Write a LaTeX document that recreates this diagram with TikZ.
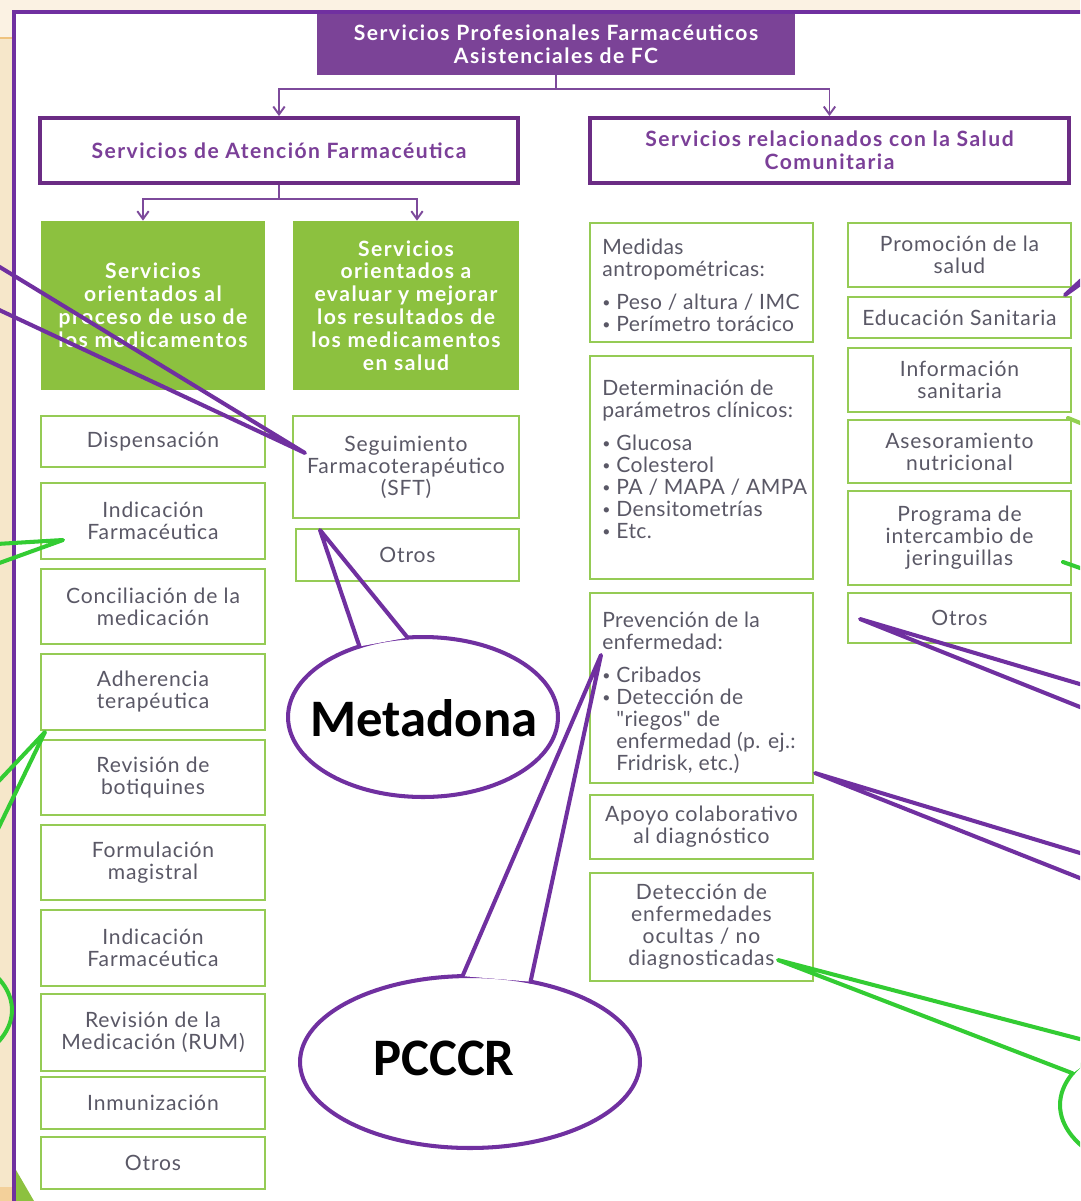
\documentclass[tikz,border=0pt]{standalone}
\usepackage{fontspec}
\setmainfont{Lato}[LetterSpace=4, Ligatures=TeXOff]
\newfontfamily\calloutfont{Carlito}
\usetikzlibrary{arrows.meta,calc,positioning,shapes.geometric}

\definecolor{creamlight}{HTML}{FBF2E3}
\definecolor{creamdark}{HTML}{F6E7CA}
\definecolor{creamband}{HTML}{F3D09A}
\definecolor{goldline}{HTML}{EFC37E}
\definecolor{framepurple}{HTML}{7030A0}
\definecolor{titlepurple}{HTML}{7B4397}
\definecolor{headpurple}{HTML}{6B2C84}
\definecolor{headtext}{HTML}{7B3F98}
\definecolor{treepurple}{HTML}{7D4A9B}
\definecolor{boxgreen}{HTML}{8CC13F}
\definecolor{itemgreen}{HTML}{95CB55}
\definecolor{itemgrey}{HTML}{5A5866}
\definecolor{calloutpurple}{HTML}{7030A0}
\definecolor{calloutgreen}{HTML}{33CC33}
\definecolor{calloutlime}{HTML}{92D050}

\newcommand\itembullet{\makebox[8pt][l]{\raisebox{1.2pt}{\fontsize{8}{8}\selectfont\textbullet}}}
\newcommand\bulletgap{\hspace*{8pt}}

\begin{document}
\begin{tikzpicture}[x=0.02cm, y=-0.02cm,
  base/.style={inner sep=0pt, align=center},
  boldtext/.style={font=\bfseries\addfontfeature{LetterSpace=7}\fontsize{12}{13}\selectfont},
  topbox/.style={base, boldtext, fill=titlepurple, text=white},
  headbox/.style={base, boldtext, draw=headpurple, line width=2.2pt, fill=white, text=headtext,
    minimum height=1.3cm},
  greenbox/.style={base, boldtext, fill=boxgreen, text=white, minimum height=3.38cm},
  item/.style={base, draw=itemgreen, line width=1.3pt, fill=white, text=itemgrey,
    font=\fontsize{12}{12.5}\selectfont, minimum width=4.46cm},
  listtext/.style={inner sep=0pt, anchor=north west, align=left, text=itemgrey,
    font=\addfontfeature{LetterSpace=2}\fontsize{12}{12.5}\selectfont},
  tree/.style={draw=treepurple, line width=1.1pt, -{Straight Barb[length=4.5pt, width=6.5pt]}},
  purpleline/.style={draw=calloutpurple, line width=2.3pt, line cap=round, line join=round},
  greenline/.style={purpleline, draw=calloutgreen},
  limeline/.style={purpleline, draw=calloutlime},
  bubble/.style={ellipse, draw=calloutpurple, line width=2.3pt, fill=white, inner sep=0pt,
    outer sep=0pt},
  greenbubble/.style={bubble, draw=calloutgreen},
  bubbletext/.style={inner sep=0pt, font=\calloutfont\bfseries\fontsize{30}{30}\selectfont}
]
\useasboundingbox (0,0) rectangle (1080,1201);
\clip (0,0) rectangle (1080,1201);

% slide background
\fill[creamlight] (0,0) rectangle (1080,1201);
\fill[creamdark] (0,38) rectangle (14,1201);
\fill[creamband] (0,1187) rectangle (14,1201);
\draw[goldline, line width=1.2pt] (0,38) -- (14,38);
\fill[white] (14,12) rectangle (1100,1230);
\fill[boxgreen] (16,1170) -- (34,1201) -- (16,1201) -- cycle;
\draw[framepurple, line width=2.3pt] (14,1230) -- (14,12) -- (1100,12);

% top levels
\node[topbox, minimum width=9.56cm, minimum height=1.22cm] (title) at (556,44.5)
  {Servicios Profesionales Farmacéuticos\\Asistenciales de FC};
\node[headbox, minimum width=9.56cm] (atencion) at (279,150.5)
  {Servicios de Atención Farmacéutica};
\node[headbox, minimum width=9.58cm] (comunitaria) at (829.5,150.5)
  {Servicios relacionados con la Salud\\Comunitaria};
\node[greenbox, minimum width=4.48cm] (proceso) at (153,305.5)
  {Servicios\\orientados al\\proceso de uso de\\los medicamentos};
\node[greenbox, minimum width=4.52cm] (resultados) at (406,305.5)
  {Servicios\\orientados a\\evaluar y mejorar\\los resultados de\\los medicamentos\\en salud};

\draw[tree] (title.south) -- ++(0,14) -| (atencion.north);
\draw[tree] (title.south) -- ++(0,14) -| (comunitaria.north);
\draw[tree] (atencion.south) -- ++(0,14) -| ([xshift=-0.2cm]proceso.north);
\draw[tree] (atencion.south) -- ++(0,14) -| ([xshift=0.22cm]resultados.north);

% proceso de uso
\node[item, minimum width=4.48cm, minimum height=1.02cm] (dispensacion) at (153,441.5) {Dispensación};
\node[item, minimum width=4.48cm, minimum height=1.52cm] (indicacion) at (153,521) {Indicación\\Farmacéutica};
\node[item, minimum width=4.48cm, minimum height=1.5cm] (conciliacion) at (153,606.5) {Conciliación de la\\medicación};
\node[item, minimum width=4.48cm, minimum height=1.52cm] (adherencia) at (153,692) {Adherencia\\terapéutica};
\node[item, minimum width=4.48cm, minimum height=1.5cm] (botiquines) at (153,777.5) {Revisión de\\botiquines};
\node[item, minimum width=4.48cm, minimum height=1.5cm] (formulacion) at (153,862.5) {Formulación\\magistral};
\node[item, minimum width=4.48cm, minimum height=1.52cm] (indicacion2) at (153,948) {Indicación\\Farmacéutica};
\node[item, minimum width=4.48cm, minimum height=1.54cm] (rum) at (153,1032.5) {Revisión de la\\Medicación (RUM)};
\node[item, minimum width=4.48cm, minimum height=1.04cm] (inmunizacion) at (153,1103) {Inmunización};
\node[item, minimum width=4.48cm, minimum height=1.04cm] (otros1) at (153,1163) {Otros};

% resultados
\node[item, minimum width=4.52cm, minimum height=2.04cm] (sft) at (406,467) {Seguimiento\\Farmacoterapéutico\\(SFT)};
\node[item, minimum width=4.46cm, minimum height=1.04cm] (otros2) at (407.5,555) {Otros};

% salud comunitaria
\node[item, minimum height=2.38cm] (medidas) at (701.5,282.5) {};
\node[listtext] (medidas-txt) at (602,239)
  {Medidas\\antropométricas:\\[6pt]\itembullet Peso / altura / IMC\\\itembullet Perímetro torácico};
\node[item, minimum height=4.46cm] (parametros) at (701.5,467.5) {};
\node[listtext] (parametros-txt) at (602,380)
  {Determinación de\\parámetros clínicos:\\[6pt]\itembullet Glucosa\\\itembullet Colesterol\\
   \itembullet PA / MAPA / AMPA\\\itembullet Densitometrías\\\itembullet Etc.};
\node[item, minimum height=3.8cm] (prevencion) at (701.5,688) {};
\node[listtext] (prevencion-txt) at (602,612)
  {Prevención de la\\enfermedad:\\[6pt]\itembullet Cribados\\\itembullet Detección de\\
   \bulletgap"riegos" de\\\bulletgap enfermedad (p. ej.:\\
   \bulletgap Fridrisk, etc.)};
\node[item, minimum height=1.28cm] (apoyo) at (701.5,827) {Apoyo colaborativo\\al diagnóstico};
\node[item, minimum height=2.16cm] (ocultas) at (701.5,927) {Detección de\\enfermedades\\ocultas / no\\diagnosticadas};

\node[item, minimum height=1.28cm] (promocion) at (959.5,255) {Promoción de la\\salud};
\node[item, minimum height=0.82cm] (educacion) at (959.5,317.5) {Educación Sanitaria};
\node[item, minimum height=1.28cm] (informacion) at (959.5,380) {Información\\sanitaria};
\node[item, minimum height=1.26cm] (asesoramiento) at (959.5,451.5) {Asesoramiento\\nutricional};
\node[item, minimum height=1.88cm] (jeringuillas) at (959.5,538) {Programa de\\intercambio de\\jeringuillas};
\node[item, minimum height=1.0cm] (otros3) at (959.5,618) {Otros};

% callouts
\node[bubble, minimum width=5.4cm, minimum height=3.2cm] (metadona) at (423,717) {};
\node[bubbletext] (metadona-txt) at (424,718) {Metadona};
\coordinate (metadona-tip) at (320,530);
\fill[white] (metadona.132) -- ($(metadona.132)!0.12!(metadona-tip)$)
  -- ($(metadona.101)!0.12!(metadona-tip)$) -- (metadona.101) -- cycle;
\draw[purpleline] (metadona.132) -- (metadona-tip) -- (metadona.101);

\node[bubble, minimum width=6.8cm, minimum height=3.44cm] (pcccr) at (470,1062) {};
\node[bubbletext] (pcccr-txt) at (444,1058) {PCCCR};
\coordinate (pcccr-tip) at (601,655);
\fill[white] (pcccr.95) -- ($(pcccr.95)!0.06!(pcccr-tip)$)
  -- ($(pcccr.53)!0.06!(pcccr-tip)$) -- (pcccr.53) -- cycle;
\draw[purpleline] (pcccr.95) -- (pcccr-tip) -- (pcccr.53);

\coordinate (sft-tip) at (305,453);
\coordinate (sft-end1) at (-20,255);
\coordinate (sft-end2) at (-20,301);
\draw[purpleline] (sft-end1) -- (sft-tip) -- (sft-end2);

\coordinate (indicacion-tip) at (63,540);
\coordinate (indicacion-end1) at (-20,545);
\coordinate (indicacion-end2) at (-20,570);
\draw[greenline] (indicacion-end1) -- (indicacion-tip) -- (indicacion-end2);

\coordinate (adherencia-tip) at (45,732);
\coordinate (adherencia-end1) at (-20,801);
\coordinate (adherencia-end2) at (-20,866);
\draw[greenline] (adherencia-end1) -- (adherencia-tip) -- (adherencia-end2);
\node[greenbubble, fill=none, minimum width=4cm, minimum height=2.52cm] (left-bubble) at (-88,1010) {};

\coordinate (promocion-tip) at (1065,295);
\coordinate (promocion-end1) at (1100,263);
\coordinate (promocion-end2) at (1100,270);
\draw[purpleline] (promocion-end1) -- (promocion-tip) -- (promocion-end2);

\coordinate (informacion-tip) at (1068,418);
\coordinate (informacion-end) at (1100,431);
\draw[limeline] (informacion-tip) -- (informacion-end);

\coordinate (jeringuillas-tip) at (1063,562);
\coordinate (jeringuillas-end) at (1100,575);
\draw[greenline] (jeringuillas-tip) -- (jeringuillas-end);

\coordinate (otros3-tip) at (860,619);
\coordinate (otros3-end1) at (1100,690);
\coordinate (otros3-end2) at (1100,715);
\draw[purpleline] (otros3-end1) -- (otros3-tip) -- (otros3-end2);

\coordinate (prevencion-tip) at (815,773);
\coordinate (prevencion-end1) at (1100,859);
\coordinate (prevencion-end2) at (1100,886);
\draw[purpleline] (prevencion-end1) -- (prevencion-tip) -- (prevencion-end2);

\node[greenbubble, minimum width=6cm, minimum height=3.16cm] (ocultas-bubble) at (1210,1105) {};
\coordinate (ocultas-tip) at (778,960);
\fill[white] (ocultas-bubble.150) -- ($(ocultas-bubble.150)!0.06!(ocultas-tip)$)
  -- ($(ocultas-bubble.167)!0.06!(ocultas-tip)$) -- (ocultas-bubble.167) -- cycle;
\draw[greenline] (ocultas-bubble.150) -- (ocultas-tip) -- (ocultas-bubble.167);
\end{tikzpicture}
\end{document}
